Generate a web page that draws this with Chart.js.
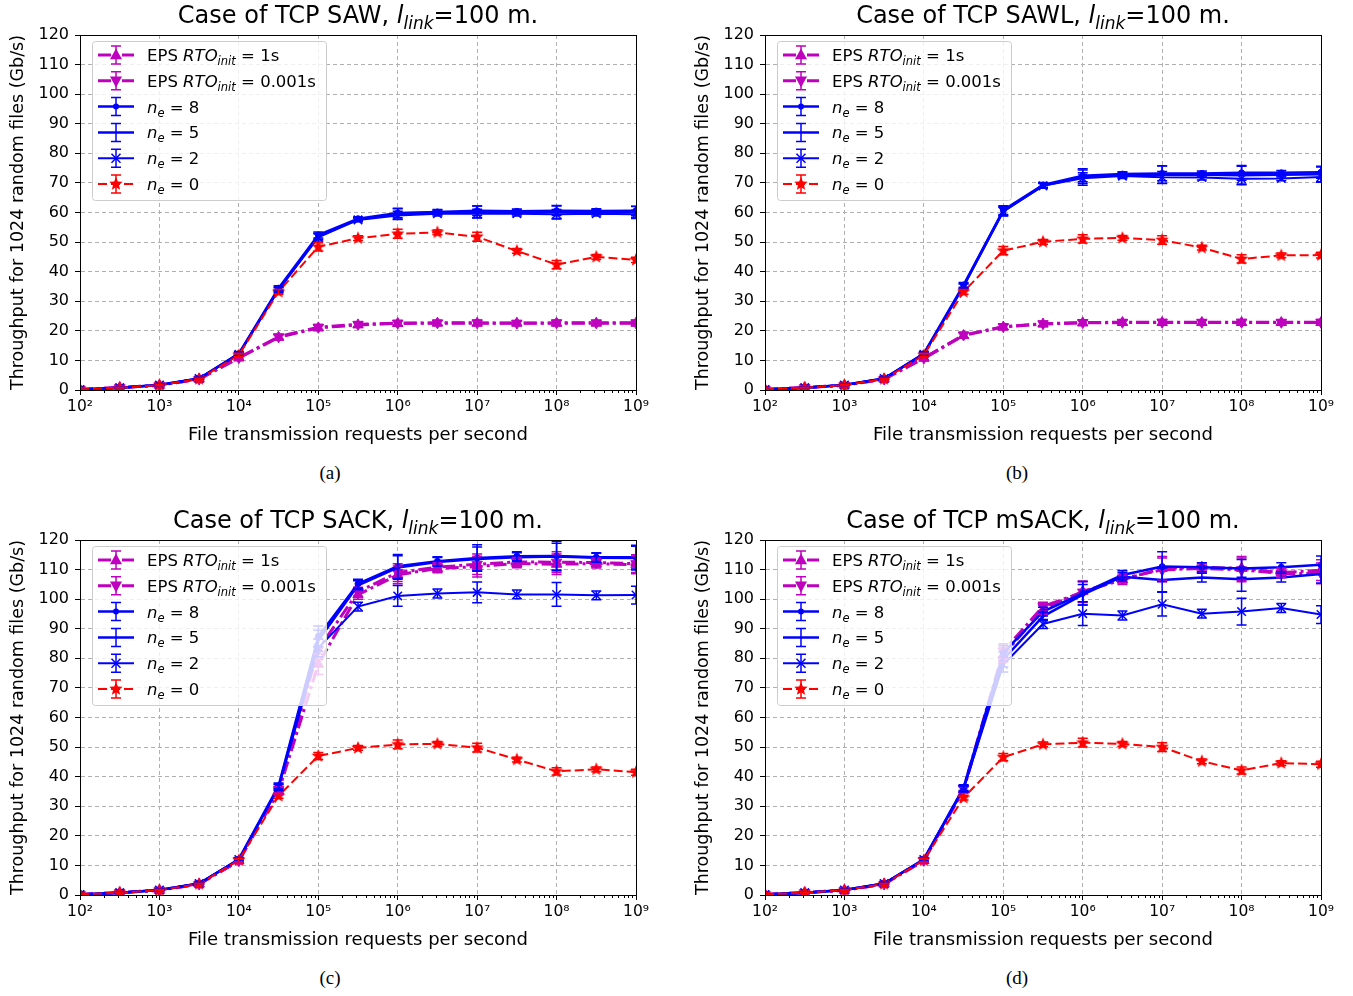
<!DOCTYPE html>
<html>
<head>
<meta charset="utf-8">
<script src="https://cdn.jsdelivr.net/npm/chart.js@4.4.1/dist/chart.umd.min.js"></script>
<style>
  body { margin: 0; background: #fff; width: 1353px; height: 996px; position: relative; overflow: hidden; font-family: "DejaVu Sans", sans-serif; }
  .panel { position: absolute; width: 676px; height: 460px; }
  .panel canvas { position: absolute; left: 0; top: 0; }
  .ptitle { position: absolute; left: 80px; width: 556px; top: 0; text-align: center; font-size: 24px; line-height: 30px; color: #000; white-space: nowrap; }
  .ptitle sub { font-size: 17px; vertical-align: -6px; line-height: 0; }
  .tag { position: absolute; width: 60px; text-align: center; font-family: "Liberation Serif", serif; font-size: 19px; color: #000; }
</style>
</head>
<body>
<div class="panel" style="left:0;top:0"><canvas id="chart-saw" width="676" height="460"></canvas>
  <div class="ptitle">Case of TCP SAW, <i>l</i><sub><i>link</i></sub>=100 m.</div></div>
<div class="panel" style="left:685px;top:0"><canvas id="chart-sawl" width="676" height="460"></canvas>
  <div class="ptitle">Case of TCP SAWL, <i>l</i><sub><i>link</i></sub>=100 m.</div></div>
<div class="panel" style="left:0;top:505px"><canvas id="chart-sack" width="676" height="460"></canvas>
  <div class="ptitle">Case of TCP SACK, <i>l</i><sub><i>link</i></sub>=100 m.</div></div>
<div class="panel" style="left:685px;top:505px"><canvas id="chart-msack" width="676" height="460"></canvas>
  <div class="ptitle">Case of TCP mSACK, <i>l</i><sub><i>link</i></sub>=100 m.</div></div>
<div class="tag" style="left:300px;top:462px">(a)</div>
<div class="tag" style="left:987px;top:462px">(b)</div>
<div class="tag" style="left:300px;top:967px">(c)</div>
<div class="tag" style="left:987px;top:967px">(d)</div>

<script>
// ── Data ──────────────────────────────────────────────────────────────────

const requestRates = [1e2, 316, 1e3, 3162, 1e4, 31623, 1e5, 316228, 1e6, 3162278, 1e7, 31622777, 1e8, 316227766, 1e9];
const decadeTicks = [1e2, 1e3, 1e4, 1e5, 1e6, 1e7, 1e8, 1e9];
const decadeLabels = ['10²', '10³', '10⁴', '10⁵', '10⁶', '10⁷', '10⁸', '10⁹'];
const yTicks = [0, 10, 20, 30, 40, 50, 60, 70, 80, 90, 100, 110, 120];

// (a) TCP SAW
const sawEps1   = [0.2, 0.8, 1.6, 3.7, 10.8, 17.8, 21.0, 22.0, 22.5, 22.6, 22.6, 22.6, 22.6, 22.6, 22.6];
const sawEps001 = [0.2, 0.8, 1.6, 3.7, 10.9, 18.0, 21.2, 22.2, 22.6, 22.7, 22.7, 22.6, 22.7, 22.7, 22.7];
const sawNe8    = [0.2, 0.8, 1.7, 3.9, 12.3, 34.4, 52.4, 57.9, 59.8, 60.2, 60.6, 60.4, 60.6, 60.5, 60.6];
const sawNe5    = [0.2, 0.8, 1.7, 3.9, 12.2, 34.0, 52.0, 57.6, 59.5, 60.0, 60.2, 60.1, 60.2, 60.1, 60.2];
const sawNe2    = [0.2, 0.8, 1.7, 3.9, 12.1, 33.8, 51.6, 57.5, 59.0, 59.6, 59.6, 59.6, 59.4, 59.6, 59.4];
const sawNe0    = [0.2, 0.8, 1.6, 3.7, 11.8, 33.2, 48.4, 51.3, 52.8, 53.3, 51.8, 47.0, 42.4, 45.0, 44.0];
const sawErrEps = [0.1, 0.1, 0.2, 0.3, 0.5, 0.8, 0.9, 0.8, 0.9, 0.8, 0.9, 0.8, 0.9, 0.8, 0.9];
const sawErrNe8 = [0.1, 0.1, 0.2, 0.3, 0.6, 0.8, 1.0, 0.6, 1.6, 0.8, 1.6, 0.8, 1.6, 0.8, 1.5];
const sawErrNe5 = [0.1, 0.1, 0.2, 0.3, 0.6, 0.8, 1.0, 0.6, 1.8, 0.8, 2.0, 0.8, 2.2, 0.8, 1.8];
const sawErrNe2 = [0.1, 0.1, 0.2, 0.3, 0.6, 0.8, 1.2, 0.6, 1.4, 0.8, 1.5, 0.8, 1.6, 0.8, 1.4];
const sawErrNe0 = [0.1, 0.1, 0.2, 0.3, 0.6, 0.8, 1.4, 0.8, 1.5, 0.8, 1.5, 0.8, 1.4, 0.8, 0.9];

// (b) TCP SAWL
const sawlEps1   = [0.2, 0.8, 1.6, 3.7, 10.7, 18.4, 21.3, 22.3, 22.7, 22.8, 22.8, 22.8, 22.8, 22.8, 22.8];
const sawlEps001 = [0.2, 0.8, 1.6, 3.7, 10.8, 18.6, 21.4, 22.4, 22.8, 22.9, 22.9, 22.9, 22.9, 22.9, 22.9];
const sawlNe8    = [0.2, 0.8, 1.7, 3.9, 12.3, 35.5, 60.8, 69.3, 72.4, 73.0, 73.2, 73.2, 73.4, 73.4, 73.6];
const sawlNe5    = [0.2, 0.8, 1.7, 3.9, 12.2, 35.2, 60.5, 69.1, 72.0, 72.7, 72.8, 72.8, 72.6, 72.8, 72.9];
const sawlNe2    = [0.2, 0.8, 1.7, 3.9, 12.1, 35.0, 60.3, 69.0, 71.6, 72.3, 71.9, 71.8, 71.4, 71.5, 72.0];
const sawlNe0    = [0.2, 0.8, 1.6, 3.7, 11.8, 33.2, 47.1, 50.1, 51.1, 51.4, 50.7, 48.1, 44.3, 45.5, 45.6];
const sawlErrEps = [0.1, 0.1, 0.2, 0.3, 0.5, 0.9, 0.9, 0.8, 0.9, 0.8, 0.9, 0.8, 0.9, 0.8, 0.9];
const sawlErrNe8 = [0.1, 0.1, 0.2, 0.3, 0.6, 0.8, 1.5, 0.8, 2.0, 0.8, 2.5, 0.8, 2.5, 0.8, 2.0];
const sawlErrNe5 = [0.1, 0.1, 0.2, 0.3, 0.6, 0.8, 1.5, 0.8, 2.8, 0.8, 3.0, 0.8, 3.0, 0.8, 2.5];
const sawlErrNe2 = [0.1, 0.1, 0.2, 0.3, 0.6, 0.8, 1.5, 0.8, 1.8, 0.8, 2.0, 0.8, 2.0, 0.8, 1.8];
const sawlErrNe0 = [0.1, 0.1, 0.2, 0.3, 0.6, 0.8, 1.4, 0.8, 1.4, 0.8, 1.4, 0.8, 1.4, 0.8, 1.0];

// (c) TCP SACK
const sackEps1   = [0.2, 0.8, 1.6, 3.7, 11.5, 35.0, 78.0, 101.5, 108.2, 110.4, 111.0, 112.1, 111.8, 112.0, 111.6];
const sackEps001 = [0.2, 0.8, 1.6, 3.7, 11.6, 35.6, 83.0, 102.5, 109.0, 110.8, 111.8, 112.6, 112.5, 112.4, 112.0];
const sackNe8    = [0.2, 0.8, 1.7, 3.9, 12.1, 36.9, 87.4, 105.2, 111.1, 112.8, 113.9, 114.5, 114.6, 114.2, 114.2];
const sackNe5    = [0.2, 0.8, 1.7, 3.9, 12.0, 36.5, 86.0, 104.7, 110.7, 112.6, 113.6, 114.2, 114.4, 114.0, 113.9];
const sackNe2    = [0.2, 0.8, 1.7, 3.9, 12.0, 36.3, 83.5, 97.5, 101.1, 101.9, 102.3, 101.6, 101.6, 101.3, 101.4];
const sackNe0    = [0.2, 0.8, 1.6, 3.7, 11.8, 33.5, 47.0, 49.7, 50.9, 51.1, 49.8, 45.8, 41.8, 42.5, 41.5];
const sackErrEps = [0.1, 0.1, 0.2, 0.3, 0.6, 1.0, 3.5, 1.5, 3.0, 1.5, 3.5, 1.5, 3.5, 1.5, 3.0];
const sackErrNe8 = [0.1, 0.1, 0.2, 0.3, 0.6, 1.0, 3.5, 1.5, 4.0, 1.5, 4.5, 1.5, 5.0, 1.5, 4.0];
const sackErrNe5 = [0.1, 0.1, 0.2, 0.3, 0.6, 1.0, 3.5, 1.5, 4.0, 1.5, 4.0, 1.5, 4.5, 1.5, 4.0];
const sackErrNe2 = [0.1, 0.1, 0.2, 0.3, 0.6, 1.0, 3.0, 1.5, 3.5, 1.5, 3.5, 1.5, 4.0, 1.5, 3.0];
const sackErrNe0 = [0.1, 0.1, 0.2, 0.3, 0.6, 0.8, 1.2, 0.8, 1.5, 0.8, 1.5, 0.8, 1.2, 0.8, 1.0];

// (d) TCP mSACK
const msackEps1   = [0.2, 0.8, 1.6, 3.7, 11.6, 35.5, 81.2, 96.4, 102.6, 106.5, 110.4, 110.8, 110.4, 109.0, 109.8];
const msackEps001 = [0.2, 0.8, 1.6, 3.7, 11.7, 36.0, 82.4, 97.5, 102.4, 107.0, 109.9, 110.4, 109.9, 108.7, 108.7];
const msackNe8    = [0.2, 0.8, 1.7, 3.9, 12.1, 36.3, 81.8, 95.8, 102.0, 108.2, 111.0, 110.8, 110.4, 110.8, 111.6];
const msackNe5    = [0.2, 0.8, 1.7, 3.9, 12.0, 36.0, 79.6, 94.2, 101.5, 107.6, 106.5, 107.3, 106.7, 107.3, 108.5];
const msackNe2    = [0.2, 0.8, 1.7, 3.9, 12.0, 35.8, 77.9, 91.6, 95.1, 94.5, 98.3, 95.1, 95.8, 97.0, 94.8];
const msackNe0    = [0.2, 0.8, 1.6, 3.7, 11.8, 32.9, 46.6, 50.9, 51.5, 51.1, 50.0, 45.2, 42.1, 44.6, 44.2];
const msackErrEps = [0.1, 0.1, 0.2, 0.3, 0.6, 1.0, 2.5, 1.5, 3.5, 1.5, 4.0, 1.5, 4.0, 1.5, 3.5];
const msackErrNe8 = [0.1, 0.1, 0.2, 0.3, 0.6, 1.0, 2.5, 1.5, 4.0, 1.5, 5.0, 1.5, 3.0, 1.5, 3.0];
const msackErrNe5 = [0.1, 0.1, 0.2, 0.3, 0.6, 1.0, 2.5, 1.5, 3.5, 1.5, 4.0, 1.5, 4.0, 1.5, 3.0];
const msackErrNe2 = [0.1, 0.1, 0.2, 0.3, 0.6, 1.0, 2.5, 1.5, 4.0, 1.5, 4.0, 1.5, 4.5, 1.5, 3.0];
const msackErrNe0 = [0.1, 0.1, 0.2, 0.3, 0.6, 0.8, 1.2, 0.8, 1.5, 0.8, 1.5, 0.8, 1.2, 0.8, 1.0];

// legend rows: [text, style] pieces; style n = upright, i = italic, s = subscript
const legendLabels = [
  [['EPS ', 'n'], ['RTO', 'i'], ['init', 's'], [' = 1s', 'n']],
  [['EPS ', 'n'], ['RTO', 'i'], ['init', 's'], [' = 0.001s', 'n']],
  [['n', 'i'], ['e', 's'], [' = 8', 'n']],
  [['n', 'i'], ['e', 's'], [' = 5', 'n']],
  [['n', 'i'], ['e', 's'], [' = 2', 'n']],
  [['n', 'i'], ['e', 's'], [' = 0', 'n']],
];

// ── Styles ────────────────────────────────────────────────────────────────

const FONT = '"DejaVu Sans", sans-serif';
const MAGENTA = '#bf00bf';
const BLUE = '#0000ff';
const RED = '#ff0000';

function _starImage(color, r) {
  const c = document.createElement('canvas');
  const s = Math.ceil(r * 2 + 2);
  c.width = c.height = s;
  const g = c.getContext('2d');
  g.fillStyle = color;
  g.beginPath();
  for (let i = 0; i < 10; i++) {
    const rad = i % 2 ? r * 0.45 : r;
    const a = -Math.PI / 2 + i * Math.PI / 5;
    g.lineTo(s / 2 + rad * Math.cos(a), s / 2 + rad * Math.sin(a));
  }
  g.closePath();
  g.fill();
  return c;
}

const SERIES_STYLES = [
  { color: MAGENTA, width: 3, dash: [13, 4, 3, 4], marker: 'triangle', rot: 0, r: 6 },
  { color: MAGENTA, width: 3, dash: [13, 4, 3, 4], marker: 'triangle', rot: 180, r: 6 },
  { color: BLUE, width: 2.5, dash: [], marker: 'circle', rot: 0, r: 3 },
  { color: BLUE, width: 2.5, dash: [], marker: 'none', rot: 0, r: 0 },
  { color: BLUE, width: 2, dash: [], marker: 'crossRot', rot: 0, r: 6 },
  { color: RED, width: 2, dash: [9, 4], marker: _starImage(RED, 7), rot: 0, r: 7 },
];

// ── Plugins ───────────────────────────────────────────────────────────────

const errorBarsPlugin = {
  id: 'errorBars',
  afterDatasetsDraw(chart) {
    const { ctx, chartArea, scales: { x, y } } = chart;
    ctx.save();
    ctx.beginPath();
    ctx.rect(chartArea.left, chartArea.top, chartArea.width, chartArea.height);
    ctx.clip();
    ctx.setLineDash([]);
    ctx.lineWidth = 1.5;
    chart.data.datasets.forEach(ds => {
      ctx.strokeStyle = ds.borderColor;
      ds.data.forEach((p, i) => {
        const e = ds.errors[i];
        if (!e) return;
        const px = x.getPixelForValue(p.x);
        const y1 = y.getPixelForValue(p.y - e);
        const y2 = y.getPixelForValue(p.y + e);
        ctx.beginPath();
        ctx.moveTo(px, y1); ctx.lineTo(px, y2);
        ctx.moveTo(px - 5, y1); ctx.lineTo(px + 5, y1);
        ctx.moveTo(px - 5, y2); ctx.lineTo(px + 5, y2);
        ctx.stroke();
      });
    });
    ctx.restore();
  },
};

const framePlugin = {
  id: 'frame',
  afterDraw(chart) {
    const { ctx, chartArea: a, scales: { x } } = chart;
    ctx.save();
    ctx.strokeStyle = '#000';
    ctx.lineWidth = 1;
    ctx.setLineDash([]);
    ctx.strokeRect(Math.round(a.left) + 0.5, Math.round(a.top) + 0.5, Math.round(a.width), Math.round(a.height));
    // minor log ticks
    ctx.beginPath();
    for (let k = 0; k < decadeTicks.length - 1; k++) {
      for (let m = 2; m <= 9; m++) {
        const px = Math.round(x.getPixelForValue(decadeTicks[k] * m)) + 0.5;
        ctx.moveTo(px, a.bottom);
        ctx.lineTo(px, a.bottom + 3);
      }
    }
    ctx.stroke();
    ctx.restore();
  },
};

function _drawMarker(ctx, st, cx, cy) {
  ctx.save();
  ctx.setLineDash([]);
  ctx.fillStyle = st.color;
  ctx.strokeStyle = st.color;
  if (st.marker === 'circle') {
    ctx.beginPath(); ctx.arc(cx, cy, st.r, 0, Math.PI * 2); ctx.fill();
  } else if (st.marker === 'triangle') {
    const d = st.rot ? -1 : 1;
    ctx.beginPath();
    ctx.moveTo(cx, cy - d * st.r * 1.1);
    ctx.lineTo(cx - st.r, cy + d * st.r * 0.7);
    ctx.lineTo(cx + st.r, cy + d * st.r * 0.7);
    ctx.closePath(); ctx.fill();
  } else if (st.marker === 'crossRot') {
    const r = st.r * 0.75;
    ctx.lineWidth = 1.5;
    ctx.beginPath();
    ctx.moveTo(cx - r, cy - r); ctx.lineTo(cx + r, cy + r);
    ctx.moveTo(cx + r, cy - r); ctx.lineTo(cx - r, cy + r);
    ctx.stroke();
  } else if (st.marker instanceof HTMLCanvasElement) {
    ctx.drawImage(st.marker, cx - st.marker.width / 2, cy - st.marker.height / 2);
  }
  ctx.restore();
}

function _drawRichText(ctx, parts, x, baseline) {
  ctx.fillStyle = '#000';
  ctx.textAlign = 'left';
  ctx.textBaseline = 'alphabetic';
  parts.forEach(([text, kind]) => {
    let dy = 0;
    if (kind === 'n') ctx.font = '16.5px ' + FONT;
    else if (kind === 'i') ctx.font = 'italic 16.5px ' + FONT;
    else { ctx.font = 'italic 11.5px ' + FONT; dy = 4; }
    ctx.fillText(text, x, baseline + dy);
    x += ctx.measureText(text).width;
  });
}

const legendPlugin = {
  id: 'legendBox',
  afterDraw(chart) {
    const { ctx, chartArea } = chart;
    const x0 = chartArea.left + 12;
    const y0 = chartArea.top + 6;
    const w = 234;
    const h = 159;
    ctx.save();
    ctx.beginPath();
    ctx.roundRect(x0 + 0.5, y0 + 0.5, w, h, 3);
    ctx.fillStyle = 'rgba(255,255,255,0.8)';
    ctx.fill();
    ctx.strokeStyle = '#cccccc';
    ctx.lineWidth = 1;
    ctx.stroke();
    legendLabels.forEach((parts, i) => {
      const st = SERIES_STYLES[i];
      const cy = y0 + 14 + i * 25.8;
      const mx = x0 + 24;
      ctx.strokeStyle = st.color;
      ctx.lineWidth = st.width;
      ctx.setLineDash(st.dash);
      ctx.beginPath();
      ctx.moveTo(x0 + 6, cy); ctx.lineTo(x0 + 42, cy);
      ctx.stroke();
      ctx.setLineDash([]);
      ctx.lineWidth = 1.5;
      ctx.beginPath();
      ctx.moveTo(mx, cy - 9); ctx.lineTo(mx, cy + 9);
      ctx.moveTo(mx - 5, cy - 9); ctx.lineTo(mx + 5, cy - 9);
      ctx.moveTo(mx - 5, cy + 9); ctx.lineTo(mx + 5, cy + 9);
      ctx.stroke();
      _drawMarker(ctx, st, mx, cy);
      _drawRichText(ctx, parts, x0 + 55, cy + 6);
    });
    ctx.restore();
  },
};

// ── Charts ────────────────────────────────────────────────────────────────

function _buildDatasets(series, errors) {
  return series.map((values, i) => {
    const st = SERIES_STYLES[i];
    return {
      data: values.map((v, j) => ({ x: requestRates[j], y: v })),
      errors: errors[i],
      borderColor: st.color,
      backgroundColor: st.color,
      borderWidth: st.width,
      borderDash: st.dash,
      tension: 0,
      pointStyle: st.marker === 'none' ? false : st.marker,
      pointRadius: st.r,
      pointRotation: st.rot,
      pointBorderWidth: st.marker === 'crossRot' ? 1.5 : 1,
      pointBackgroundColor: st.color,
      pointBorderColor: st.color,
      order: 5 - i,
    };
  });
}

function _renderPanel(id, series, errors) {
  const gridColor = '#b0b0b0';
  new Chart(document.getElementById(id), {
    type: 'line',
    data: { datasets: _buildDatasets(series, errors) },
    options: {
      responsive: false,
      animation: false,
      events: [],
      layout: { padding: { top: 35, right: 40, left: 0, bottom: 0 } },
      plugins: { legend: { display: false }, tooltip: { enabled: false } },
      scales: {
        x: {
          type: 'logarithmic',
          min: 1e2,
          max: 1e9,
          afterBuildTicks: s => { s.ticks = decadeTicks.map(v => ({ value: v, major: true })); },
          afterFit: s => { s.height = 70; },
          ticks: {
            callback: v => { const k = decadeTicks.indexOf(v); return k >= 0 ? decadeLabels[k] : ''; },
            autoSkip: false, maxRotation: 0, padding: 3,
            font: { family: FONT, size: 15.5 }, color: '#000',
          },
          grid: { color: gridColor, lineWidth: 1, tickColor: '#000', tickLength: 5, tickWidth: 1 },
          border: { display: true, color: '#000', width: 1, dash: [4, 3] },
          title: {
            display: true, text: 'File transmission requests per second', color: '#000',
            font: { family: FONT, size: 18 }, padding: { top: 4, bottom: 14 },
          },
        },
        y: {
          min: 0,
          max: 120,
          afterBuildTicks: s => { s.ticks = yTicks.map(v => ({ value: v })); },
          afterFit: s => { s.width = 80; },
          ticks: { padding: 6, font: { family: FONT, size: 16 }, color: '#000' },
          grid: { color: gridColor, lineWidth: 1, tickColor: '#000', tickLength: 5, tickWidth: 1 },
          border: { display: true, color: '#000', width: 1, dash: [4, 3] },
          title: {
            display: true, text: 'Throughput for 1024 random files (Gb/s)', color: '#000',
            font: { family: FONT, size: 17.5 }, padding: { top: 8, bottom: 4 },
          },
        },
      },
    },
    plugins: [errorBarsPlugin, framePlugin, legendPlugin],
  });
}

_renderPanel('chart-saw',
  [sawEps1, sawEps001, sawNe8, sawNe5, sawNe2, sawNe0],
  [sawErrEps, sawErrEps, sawErrNe8, sawErrNe5, sawErrNe2, sawErrNe0]);
_renderPanel('chart-sawl',
  [sawlEps1, sawlEps001, sawlNe8, sawlNe5, sawlNe2, sawlNe0],
  [sawlErrEps, sawlErrEps, sawlErrNe8, sawlErrNe5, sawlErrNe2, sawlErrNe0]);
_renderPanel('chart-sack',
  [sackEps1, sackEps001, sackNe8, sackNe5, sackNe2, sackNe0],
  [sackErrEps, sackErrEps, sackErrNe8, sackErrNe5, sackErrNe2, sackErrNe0]);
_renderPanel('chart-msack',
  [msackEps1, msackEps001, msackNe8, msackNe5, msackNe2, msackNe0],
  [msackErrEps, msackErrEps, msackErrNe8, msackErrNe5, msackErrNe2, msackErrNe0]);
</script>
</body>
</html>
